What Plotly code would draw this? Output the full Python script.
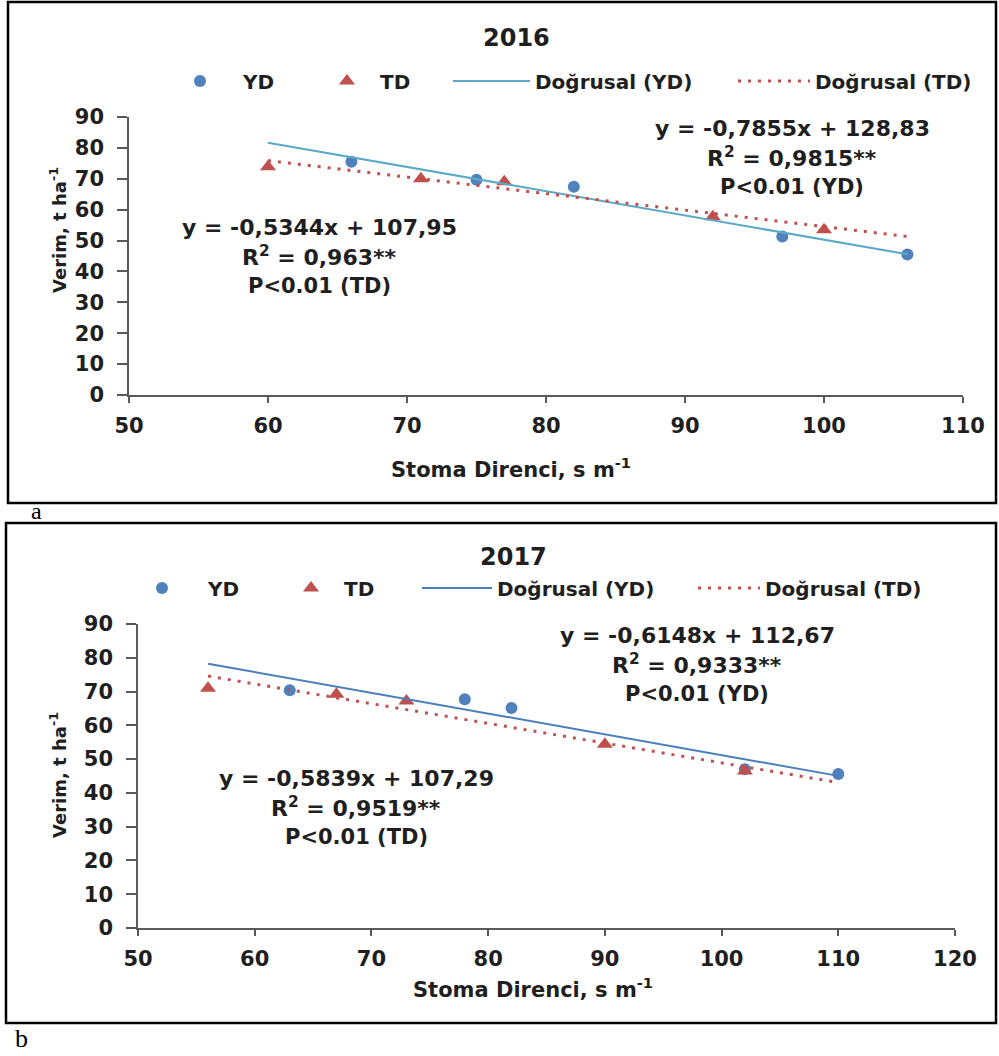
import plotly.graph_objects as go

W, H = 999, 1056

# ---------------- data ----------------
years = ["2016", "2017"]

# 2016
x16_yd = [66, 75, 82, 97, 106]
y16_yd = [75.5, 69.7, 67.4, 51.3, 45.5]
x16_td = [60, 71, 77, 92, 100]
y16_td = [73.9, 70.0, 69.0, 57.7, 53.5]
slope16_yd, icpt16_yd, r2_16_yd = -0.7855, 128.83, 0.9815
slope16_td, icpt16_td, r2_16_td = -0.5344, 107.95, 0.963

# 2017
x17_yd = [63, 78, 82, 102, 110]
y17_yd = [70.4, 67.7, 65.1, 47.0, 45.6]
x17_td = [56, 67, 73, 90, 102]
y17_td = [71.0, 69.2, 67.2, 54.4, 46.5]
slope17_yd, icpt17_yd, r2_17_yd = -0.6148, 112.67, 0.9333
slope17_td, icpt17_td, r2_17_td = -0.5839, 107.29, 0.9519

x_ticks16 = [50, 60, 70, 80, 90, 100, 110]
x_ticks17 = [50, 60, 70, 80, 90, 100, 110, 120]
y_ticks = [0, 10, 20, 30, 40, 50, 60, 70, 80, 90]

series_names = ["YD", "TD", "Doğrusal (YD)", "Doğrusal (TD)"]
x_title = "Stoma Direnci, s m<sup>-1</sup>"
y_title = "Verim, t ha<sup>-1</sup>"
p_text = "P<0.01"
panel_labels = ["a", "b"]

# ---------------- helpers ----------------
def px(x):
    return x / W


def py(y):
    return 1 - y / H


def dec(v, n=None):
    s = f"{v:.{n}f}" if n is not None else repr(v)
    return s.replace(".", ",")


def eq_text(s, b):
    sign = "+" if b >= 0 else "-"
    return f"y = {dec(s, 4)}x {sign} {dec(abs(b), 2)}"


BLUE = "#4F81BD"
RED = "#C0504D"
AXC = "#595959"
TXT = "#1F1F1F"
FONT = "DejaVu Sans"

fig = go.Figure()

panels = [
    dict(xa="x", ya="y", xyd=(x16_yd, y16_yd), xtd=(x16_td, y16_td),
         fyd=(slope16_yd, icpt16_yd, r2_16_yd), ftd=(slope16_td, icpt16_td, r2_16_td),
         line_col="#5BA8C9", legs=("legend", "legend2", "legend3", "legend4")),
    dict(xa="x2", ya="y2", xyd=(x17_yd, y17_yd), xtd=(x17_td, y17_td),
         fyd=(slope17_yd, icpt17_yd, r2_17_yd), ftd=(slope17_td, icpt17_td, r2_17_td),
         line_col="#4A7EBB", legs=("legend5", "legend6", "legend7", "legend8")),
]

for p in panels:
    (xy, yy), (xt, yt) = p["xyd"], p["xtd"]
    xmin = min(min(xy), min(xt))
    xmax = max(max(xy), max(xt))
    fig.add_trace(go.Scatter(x=xy, y=yy, mode="markers", name=series_names[0],
                             marker=dict(symbol="circle", size=12, color=BLUE),
                             xaxis=p["xa"], yaxis=p["ya"], legend=p["legs"][0]))
    fig.add_trace(go.Scatter(x=xt, y=yt, mode="markers", name=series_names[1],
                             marker=dict(symbol="triangle-up", size=14, color=RED),
                             xaxis=p["xa"], yaxis=p["ya"], legend=p["legs"][1]))
    s, b, _ = p["fyd"]
    fig.add_trace(go.Scatter(x=[xmin, xmax], y=[s * xmin + b, s * xmax + b], mode="lines",
                             name=series_names[2], line=dict(color=p["line_col"], width=2),
                             xaxis=p["xa"], yaxis=p["ya"], legend=p["legs"][2]))
    s, b, _ = p["ftd"]
    fig.add_trace(go.Scatter(x=[xmin, xmax], y=[s * xmin + b, s * xmax + b], mode="lines",
                             name=series_names[3], line=dict(color=RED, width=3, dash="3px,7px"),
                             xaxis=p["xa"], yaxis=p["ya"], legend=p["legs"][3]))

axis_common = dict(showline=True, linecolor=AXC, linewidth=1.5, ticks="outside",
                   tickcolor=AXC, tickwidth=1.5, showgrid=False, zeroline=False,
                   tickfont=dict(family=FONT, size=21, weight=700, color=TXT))

fig.update_layout(
    xaxis=dict(domain=[px(129), px(963)], range=[50, 110], tickvals=x_ticks16,
               ticklen=6, ticklabelstandoff=5, anchor="y", **axis_common),
    yaxis=dict(domain=[py(395), py(117)], range=[0, 90], tickvals=y_ticks,
               ticklen=10, ticklabelstandoff=9, anchor="x", **axis_common),
    xaxis2=dict(domain=[px(138), px(955)], range=[50, 120], tickvals=x_ticks17,
                ticklen=6, ticklabelstandoff=5, anchor="y2", **axis_common),
    yaxis2=dict(domain=[py(928), py(624)], range=[0, 90], tickvals=y_ticks,
                ticklen=10, ticklabelstandoff=9, anchor="x2", **axis_common),
)

# ---------------- legends (one per item, to place them like the original) ----------------
leg_font = dict(family=FONT, size=20, weight=700, color=TXT)
# (legend name, left px, centre y px, itemwidth)
leg_pos = [
    ("legend", 157, 81, 76), ("legend2", 314, 81, 56), ("legend3", 448, 81, 77), ("legend4", 733, 81, 72),
    ("legend5", 116, 588, 82), ("legend6", 278, 588, 56), ("legend7", 417, 588, 70), ("legend8", 693, 588, 62),
]
for name, lx, ly, iw in leg_pos:
    fig.update_layout({name: dict(x=px(lx), y=py(ly), xanchor="left", yanchor="middle",
                                  orientation="h", itemwidth=iw, font=leg_font,
                                  bgcolor="rgba(0,0,0,0)", borderwidth=0,
                                  itemclick=False, itemdoubleclick=False)})

# ---------------- text ----------------
ann = []


def add_text(text, x, y, size, angle=0, family=FONT, weight=700, color=TXT):
    ann.append(dict(text=text, x=px(x), y=py(y), xref="paper", yref="paper",
                    xanchor="center", yanchor="middle", showarrow=False, textangle=angle,
                    font=dict(family=family, size=size, weight=weight, color=color)))


# titles
add_text(years[0], 516, 38, 24)
add_text(years[1], 513, 557, 24)

# equations: (fit, label, centre x, first line y)
eqs = [
    ((slope16_yd, icpt16_yd, r2_16_yd), "YD", 792, 128),
    ((slope16_td, icpt16_td, r2_16_td), "TD", 319, 227),
    ((slope17_yd, icpt17_yd, r2_17_yd), "YD", 697, 635),
    ((slope17_td, icpt17_td, r2_17_td), "TD", 356, 778),
]
for (s, b, r2), lab, cx, cy in eqs:
    add_text(eq_text(s, b), cx, cy, 22)
    add_text(f"R<sup>2</sup> = {dec(r2)}**", cx, cy + 29, 22)
    add_text(f"{p_text} ({lab})", cx, cy + 59, 21)

# axis titles
add_text(x_title, 511, 468, 21)
add_text(x_title, 533, 988, 21)
add_text(y_title, 58, 230, 18, angle=-90)
add_text(y_title, 58, 775, 18, angle=-90)

# panel labels
add_text(panel_labels[0], 36, 511, 24, family="Liberation Serif", weight=400, color="#000")
add_text(panel_labels[1], 21, 1038, 26, family="Liberation Serif", weight=400, color="#000")

shapes = [
    dict(type="rect", xref="paper", yref="paper", x0=px(8), x1=px(996), y0=py(503), y1=py(2),
         line=dict(color="#000", width=2.5)),
    dict(type="rect", xref="paper", yref="paper", x0=px(6), x1=px(996), y0=py(1023), y1=py(523),
         line=dict(color="#000", width=2.5)),
]

fig.update_layout(width=W, height=H, autosize=False,
                  margin=dict(l=0, r=0, t=0, b=0, autoexpand=False),
                  paper_bgcolor="white", plot_bgcolor="white", annotations=ann, shapes=shapes,
                  showlegend=True)

fig.write_html("out.html", config={"displayModeBar": False},
               post_script="document.body.style.margin='0px';")
